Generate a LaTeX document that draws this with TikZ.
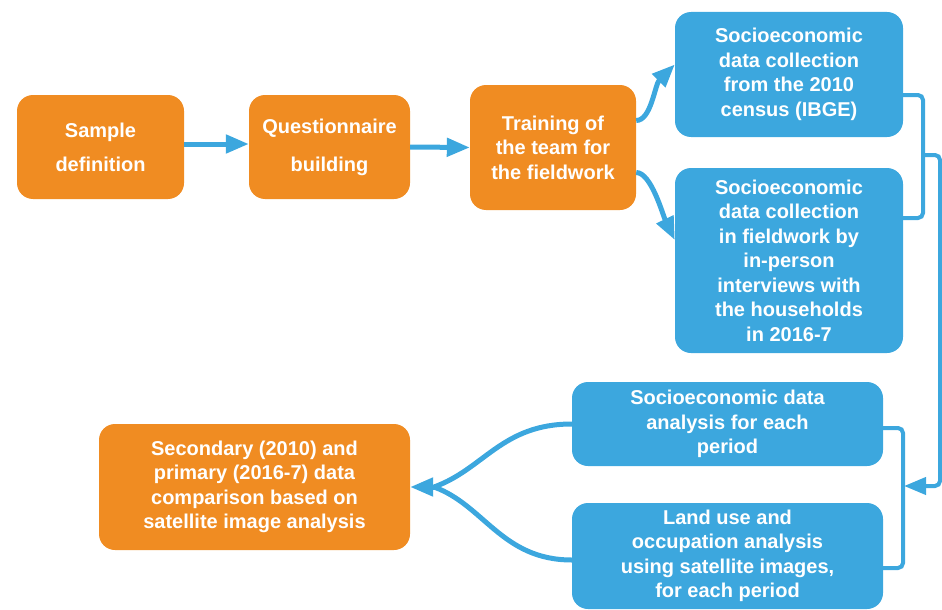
\documentclass[tikz,border=0pt]{standalone}
\usepackage{fontspec}
\setmainfont{Liberation Sans}
\usetikzlibrary{arrows.meta}
\definecolor{obox}{HTML}{F08C22}
\definecolor{bbox}{HTML}{3CA7DE}
\begin{document}
\begin{tikzpicture}[x=1pt,y=-1pt,
  box/.style={rounded corners=16pt, text=white, font=\bfseries\fontsize{20}{24.5}\selectfont, align=center, inner sep=0pt},
  obx/.style={box, fill=obox},
  bbx/.style={box, fill=bbox},
  tip/.style={-{Triangle[length=23pt,width=18pt]}},
  arr/.style={draw=bbox, line width=5pt, tip},
  conn/.style={draw=bbox, line width=4pt, rounded corners=5pt}]
\useasboundingbox (0,0) rectangle (942,610);
\node[obx, minimum width=167pt, minimum height=104pt] (samp) at (100.5,147) {Sample\\[9.5pt]definition};
\node[obx, minimum width=161pt, minimum height=104pt] (quest) at (329.5,147) {Questionnaire\\[13.5pt]building};
\node[obx, minimum width=166pt, minimum height=125pt] (train) at (553,147.5) {Training of\\the team for\\the fieldwork};
\node[bbx, minimum width=228pt, minimum height=125pt] (s2010) at (789,74.5) {Socioeconomic\\data collection\\from the 2010\\census (IBGE)};
\node[bbx, minimum width=228pt, minimum height=185pt] (sfield) at (789,260.5) {Socioeconomic\\data collection\\in fieldwork by\\in-person\\interviews with\\the households\\in 2016-7};
\node[bbx, minimum width=311pt, minimum height=84pt] (sanal) at (727.5,424) {Socioeconomic data\\analysis for each\\period};
\node[bbx, minimum width=311pt, minimum height=106pt] (land) at (727.5,556) {Land use and\\occupation analysis\\using satellite images,\\for each period};
\node[obx, minimum width=311pt, minimum height=126pt] (second) at (254.5,487) {Secondary (2010) and\\primary (2016-7) data\\comparison based on\\satellite image analysis};
% straight arrows
\draw[arr] ([yshift=3]samp.east) -- ([yshift=3]quest.west);
\draw[arr] (quest.east) -- (train.west);
% curved arrows from training
\draw[arr] ([yshift=27]train.east) .. controls +(15,0) and +(-20,20) .. ([yshift=10]s2010.west);
\draw[arr] ([yshift=-25]train.east) .. controls +(15,0) and +(-12,-25) .. ([yshift=20.5]sfield.west);
% bracket 1
\draw[conn] ([yshift=-20.5]s2010.east) -- (923,95) -- (923,218) -- ([yshift=42.5]sfield.east);
\coordinate (j1) at (923,155);
\coordinate (j2) at (904,486);
\draw[conn, -{Triangle[length=22pt,width=17pt]}] (j1) -- (940,155) -- (940,486) -- (j2);
% bracket 2
\draw[conn] ([yshift=-4]sanal.east) -- (903,428) -- (903,568) -- ([yshift=-12]land.east);
% converging arrows
\coordinate (tb) at (434,487);
\draw[draw=bbox, line width=5pt] (sanal.west) .. controls +(-70,0) and +(50,-18) .. (tb);
\draw[draw=bbox, line width=5pt] ([yshift=-4]land.west) .. controls +(-70,0) and +(50,18) .. (tb);
\draw[arr] (tb) -- (second.east);
\end{tikzpicture}
\end{document}
